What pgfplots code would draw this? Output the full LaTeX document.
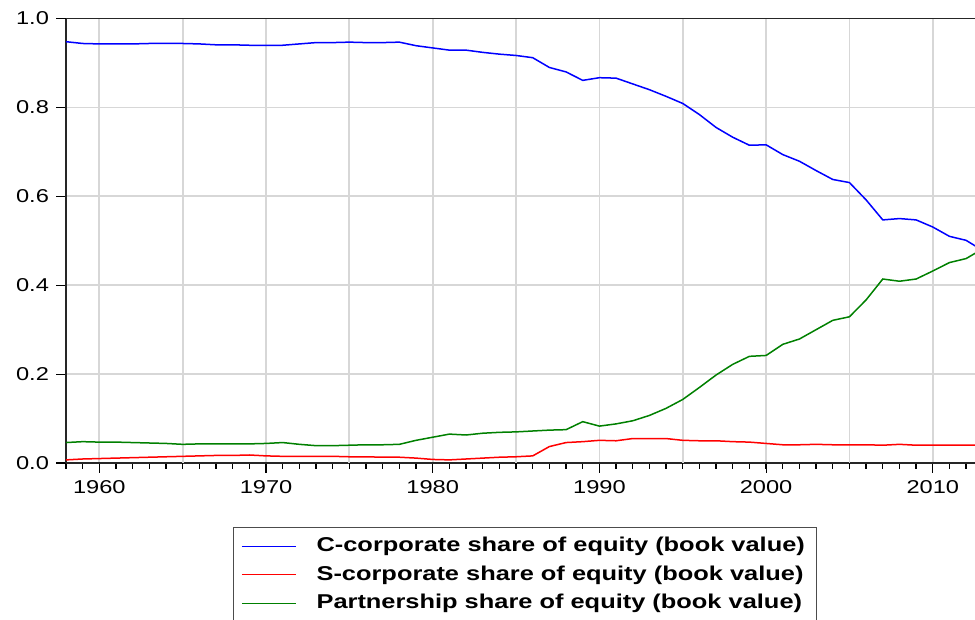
\documentclass[border=0pt]{standalone}
\usepackage{pgfplots}
\pgfplotsset{compat=1.18}
\usepackage{pgfplotstable}
\usepackage{fontspec}
\setmainfont{Liberation Sans}[FakeStretch=1.27]
\definecolor{cblue}{RGB}{0,0,255}
\definecolor{cred}{RGB}{255,0,0}
\definecolor{cgreen}{RGB}{0,128,0}
\definecolor{gridgray}{RGB}{215,215,215}
\pgfplotstableread{
year c s p
1958 0.948 0.007 0.046
1959 0.944 0.009 0.048
1960 0.943 0.010 0.047
1961 0.943 0.011 0.047
1962 0.943 0.012 0.046
1963 0.944 0.013 0.045
1964 0.944 0.014 0.044
1965 0.944 0.015 0.042
1966 0.943 0.016 0.043
1967 0.941 0.017 0.043
1968 0.941 0.017 0.043
1969 0.940 0.018 0.043
1970 0.940 0.016 0.044
1971 0.940 0.015 0.046
1972 0.943 0.015 0.042
1973 0.946 0.015 0.039
1974 0.946 0.015 0.039
1975 0.947 0.014 0.040
1976 0.946 0.014 0.041
1977 0.946 0.013 0.041
1978 0.947 0.013 0.042
1979 0.939 0.011 0.051
1980 0.934 0.008 0.058
1981 0.929 0.007 0.065
1982 0.929 0.009 0.063
1983 0.924 0.011 0.067
1984 0.920 0.013 0.069
1985 0.917 0.014 0.070
1986 0.912 0.016 0.072
1987 0.890 0.037 0.074
1988 0.880 0.046 0.075
1989 0.861 0.048 0.093
1990 0.867 0.051 0.083
1991 0.866 0.050 0.088
1992 0.853 0.055 0.095
1993 0.840 0.055 0.107
1994 0.825 0.055 0.123
1995 0.809 0.051 0.143
1996 0.784 0.050 0.170
1997 0.755 0.050 0.198
1998 0.733 0.048 0.222
1999 0.715 0.047 0.240
2000 0.716 0.044 0.242
2001 0.694 0.041 0.267
2002 0.679 0.041 0.279
2003 0.658 0.042 0.300
2004 0.638 0.041 0.321
2005 0.631 0.041 0.329
2006 0.592 0.041 0.367
2007 0.547 0.040 0.414
2008 0.550 0.042 0.409
2009 0.547 0.040 0.414
2010 0.531 0.040 0.432
2011 0.510 0.040 0.451
2012 0.501 0.040 0.460
2013 0.478 0.040 0.482
}\datatable
\begin{document}
\begin{tikzpicture}
\begin{axis}[
  at={(0pt,0pt)}, anchor=south west,
  scale only axis,
  width=458.4pt, height=222.2pt,
  xmin=1958, xmax=2013, ymin=0, ymax=1,
  axis line style={line width=0.8pt, black!85},
  axis y line*=left, axis x line*=box,
  tick align=outside,
  xtick pos=bottom, ytick pos=left,
  xtick={1960,1970,1980,1990,2000,2010},
  minor xtick={1958,1959,...,2013},
  extra x ticks={1965,1975,1985,1995,2005},
  extra x tick labels={},
  extra x tick style={major tick length=3pt, xmajorgrids=true},
  ytick={0,0.2,0.4,0.6,0.8,1.0},
  major tick length=5pt, minor tick length=3pt,
  tick style={black, line width=0.6pt},
  xmajorgrids=true, ymajorgrids=true,
  major grid style={gridgray, line width=0.9pt},
  /pgf/number format/assume math mode=true,
  tick label style={font=\fontsize{9.3}{11}\selectfont},
  xticklabel style={/pgf/number format/1000 sep={}},
  yticklabel style={/pgf/number format/.cd, fixed, fixed zerofill, precision=1},
  legend style={at={(axis description cs:0.182,-0.144)}, anchor=north west,
    draw=black!70, line width=0.5pt, font=\bfseries\fontsize{10}{12}\selectfont,
    inner xsep=4pt, inner ysep=3pt, row sep=1.5pt, column sep=8pt},
  legend cell align=left,
  legend image code/.code={\draw[#1, line width=0.6pt] (0pt,0pt) -- (27pt,0pt);},
]
\addplot[cblue, line width=0.75pt] table[x=year, y=c] {\datatable};
\addlegendentry{C-corporate share of equity (book value)}
\addplot[cred, line width=0.75pt] table[x=year, y=s] {\datatable};
\addlegendentry{S-corporate share of equity (book value)}
\addplot[cgreen, line width=0.75pt] table[x=year, y=p] {\datatable};
\addlegendentry{Partnership share of equity (book value)}
\end{axis}
\pgfresetboundingbox
\useasboundingbox (-33pt,-78.5pt) rectangle (454.5pt,231.5pt);
\end{tikzpicture}
\end{document}
